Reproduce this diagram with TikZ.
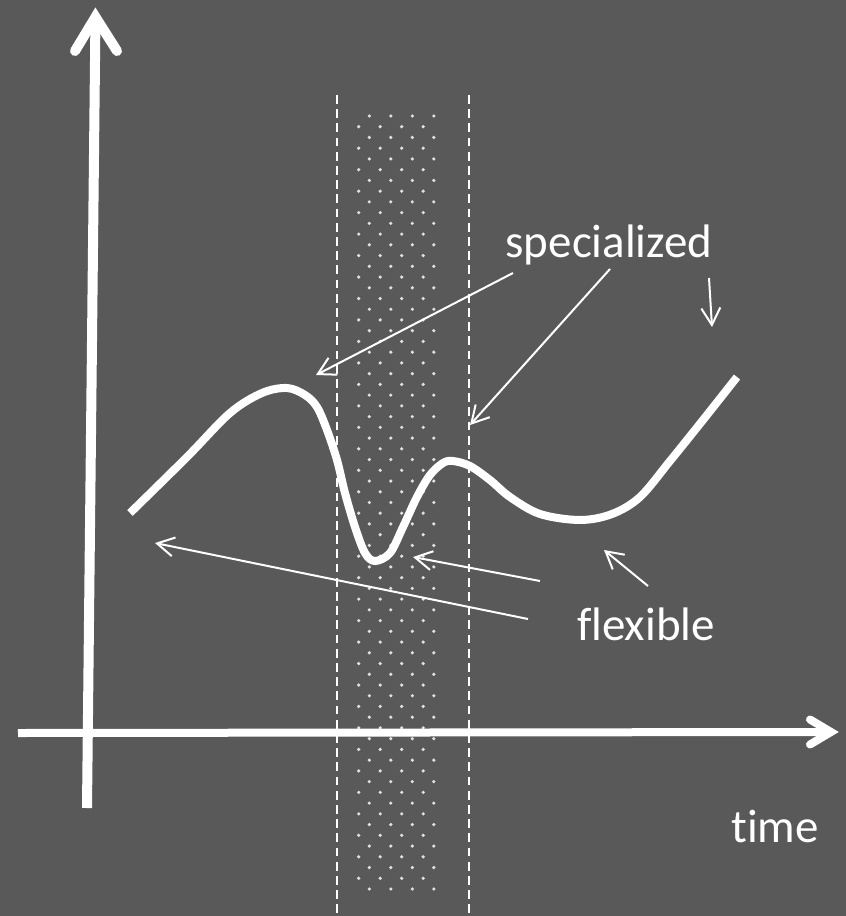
\documentclass[tikz,border=0pt]{standalone}
\usepackage{fontspec}
\setmainfont{Carlito}[Ligatures={NoCommon,NoRare,NoContextual}]
\usetikzlibrary{arrows.meta}
\definecolor{bg}{RGB}{89,89,89}
\definecolor{dotc}{RGB}{225,225,225}
\tikzset{
  axisline/.style={draw=white, line width=#1},
  axishead/.style={draw=white, line width=#1, line cap=round, line join=miter},
  thinarrow/.style={draw=white, line width=2pt, -{Straight Barb[length=17pt,width=19pt]}},
  bandline/.style={draw=white, line width=2pt, dash pattern=on 8.7pt off 5.5pt},
  curvepath/.style={draw=white, line width=8pt},
  lbl/.style={text=white, inner sep=0pt, anchor=base, font=\fontsize{47}{50}\selectfont},
  dotmark/.style={fill=dotc}
}
\begin{document}
\begin{tikzpicture}[x=1pt,y=-1pt]
\fill[bg] (0,0) rectangle (846,916);
\useasboundingbox (0,0) rectangle (846,916);
% dotted band
\foreach \n in {0,...,72}{
  \pgfmathsetmacro{\yy}{116+10.736*\n}
  \pgfmathtruncatemacro{\rowpar}{mod(\n,2)}
  \ifnum\rowpar=0
    \foreach \k in {0,...,3}{\fill[dotmark] (369.3+21.5*\k,\yy) circle (1.8);}
  \else
    \foreach \k in {0,...,3}{\fill[dotmark] (358.7+21.5*\k,\yy) circle (1.8);}
  \fi
}
% dashed band lines
\coordinate (bl1) at (337,95); \coordinate (bl2) at (337,916);
\coordinate (br1) at (469,95); \coordinate (br2) at (469,916);
\draw[bandline] (bl1) -- (bl2);
\draw[bandline] (br1) -- (br2);
% axes
\coordinate (yb) at (87,808); \coordinate (yv) at (95.5,17);
\coordinate (ywl) at (75,51); \coordinate (ywr) at (117,51);
\draw[axisline=10pt] (yb) -- (95.4,24);
\draw[axishead=10pt] (ywl) -- (yv) -- (ywr);
\coordinate (xl) at (18,733); \coordinate (xv) at (831,732);
\coordinate (xwu) at (810,719.5); \coordinate (xwd) at (810,744.5);
\draw[axisline=8pt] (xl) -- (826,732);
\draw[axishead=8pt] (xwu) -- (xv) -- (xwd);
% curve
\draw[curvepath] plot[smooth, tension=0.55] coordinates {
 (130,513) (187,457) (230,413) (262,393) (287,388) (305,395) (317,407) (327,430)
 (337,460) (345,493) (355,527) (365,553) (375,561) (390,553) (403,527) (417,497)
 (430,475) (443,463) (453,461) (470,466) (490,480) (510,497) (540,514) (580,520)
 (612,514) (640,497) (670,461) (703,420) (737,377)};
% labels
\node[lbl] (spec) at (609,257) {specialized};
\node[lbl] (flex) at (646,640) {flexible};
\node[lbl] (time) at (775,842) {time};
% thin arrows
\coordinate (s1a) at (513,273); \coordinate (s1b) at (316,375);
\coordinate (s2a) at (610,269); \coordinate (s2b) at (470,425);
\coordinate (s3a) at (709,278); \coordinate (s3b) at (712,327);
\coordinate (f1a) at (528,619); \coordinate (f1b) at (155,543);
\coordinate (f2a) at (540,581); \coordinate (f2b) at (413,557);
\coordinate (f3a) at (648,586); \coordinate (f3b) at (604,550);
\draw[thinarrow] (s1a) -- (s1b);
\draw[thinarrow] (s2a) -- (s2b);
\draw[thinarrow] (s3a) -- (s3b);
\draw[thinarrow] (f1a) -- (f1b);
\draw[thinarrow] (f2a) -- (f2b);
\draw[thinarrow] (f3a) -- (f3b);
\end{tikzpicture}
\end{document}
